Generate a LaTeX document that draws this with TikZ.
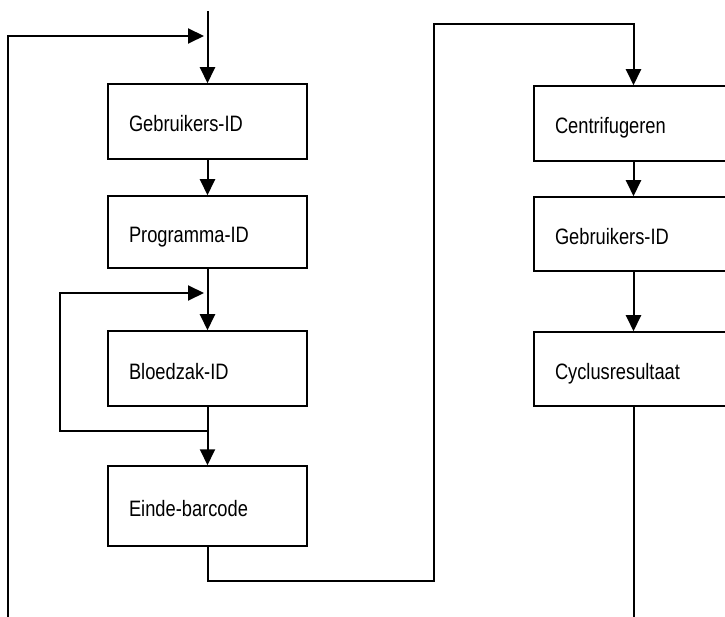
\documentclass[tikz,border=0pt]{standalone}
\usepackage{fontspec}
\setmainfont[FakeStretch=0.82]{Liberation Sans}
\usetikzlibrary{arrows.meta}
\begin{document}
\begin{tikzpicture}[x=1pt,y=-1pt,
  box/.style={draw,line width=1.5pt,minimum width=199pt,text width=157pt,inner xsep=21pt,align=left,
    text height=21pt,text depth=0pt,font=\fontsize{22.3}{26}\selectfont},
  conn/.style={line width=2pt},
  arr/.style={conn,-{Triangle[length=16pt,width=15pt]}}]
\useasboundingbox (0,0) rectangle (725,617);
\clip (0,0) rectangle (725,617);
% left column
\node[box,minimum height=75pt] (g1) at (207.5,121.5) {Gebruikers-ID};
\node[box,minimum height=72pt] (p) at (207.5,232) {Programma-ID};
\node[box,minimum height=75pt] (b) at (207.5,368.5) {Bloedzak-ID};
\node[box,minimum height=80pt] (e) at (207.5,506) {Einde-barcode};
% right column
\node[box,minimum height=75pt] (c) at (633.5,123.5) {Centrifugeren};
\node[box,minimum height=74pt] (g2) at (633.5,234) {Gebruikers-ID};
\node[box,minimum height=74pt] (cy) at (633.5,369) {Cyclusresultaat};
% coordinates
\coordinate (top) at (207.5,11);
\coordinate (j1) at (204,36);
\coordinate (fb) at (8,617);
\coordinate (j2) at (204,293);
\coordinate (l2) at (60,293);
\coordinate (j3) at (206.5,431);
\coordinate (c1) at (434,581);
\coordinate (c2) at (633.5,24);
\coordinate (bot) at (633.5,617);
% connectors
\draw[arr] (top) -- (g1.north);
\draw[arr] (fb) |- (j1);
\draw[arr] (g1.south) -- (p.north);
\draw[arr] (p.south) -- (b.north);
\draw[arr] (j3) -| (l2) -- (j2);
\draw[arr] (b.south) -- (e.north);
\draw[arr] (e.south) |- (c1) |- (c2) -- (c.north);
\draw[arr] (c.south) -- (g2.north);
\draw[arr] (g2.south) -- (cy.north);
\draw[conn] (cy.south) -- (bot);
\end{tikzpicture}
\end{document}
